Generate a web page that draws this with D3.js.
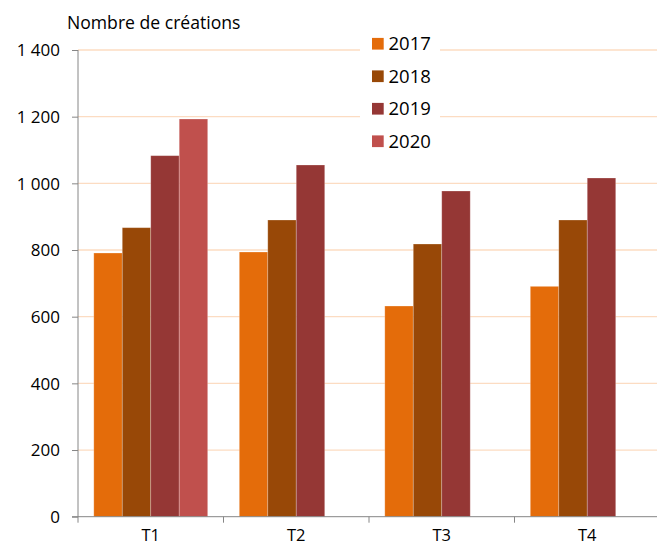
<!DOCTYPE html>
<html><head><meta charset="utf-8">
<script src="https://cdn.jsdelivr.net/npm/d3@7"></script>
<style>body{margin:0;background:#fff}svg{display:block}text{font-family:"Open Sans",sans-serif;fill:#000}</style>
</head><body><svg id="c" width="657" height="544"></svg>
<script>
const quarters = ["T1","T2","T3","T4"];
const years = ["2017","2018","2019","2020"];
const colors = ["#E46C0A","#984807","#953735","#C0504D"];
const v2017 = [791, 794, 632, 691];
const v2018 = [867, 890, 818, 890];
const v2019 = [1083, 1055, 977, 1016];
const v2020 = [1193, null, null, null];
const yTicks = [0,200,400,600,800,1000,1200,1400];
const yTickLabels = ["0","200","400","600","800","1 000","1 200","1 400"];
const yTitle = "Nombre de créations";

const series = [v2017, v2018, v2019, v2020];
const svg = d3.select("#c");
const L = 78, R = 660, T = 50, B = 516.7;
const x0 = d3.scaleBand().domain(quarters).range([L, R]).paddingInner(0);
const x1 = d3.scaleBand().domain(years).range([15.8, x0.bandwidth()-15.8]);
const y = d3.scaleLinear().domain([0,1400]).range([B, T]);

// gridlines
svg.append("g").selectAll("line").data(yTicks.filter(d=>d>0)).join("line")
  .attr("x1", L).attr("x2", 657).attr("y1", d=>y(d)).attr("y2", d=>y(d))
  .attr("stroke", "#FCDCC2").attr("stroke-width", 1.3);

// bars
const g = svg.append("g");
series.forEach((vals, si) => {
  g.selectAll(null).data(quarters.map((q,i)=>({q, v: vals[i]})).filter(d=>d.v!=null)).join("rect")
    .attr("x", d=>x0(d.q)+x1(years[si]))
    .attr("width", x1.bandwidth())
    .attr("y", d=>y(d.v))
    .attr("height", d=>B - y(d.v))
    .attr("fill", colors[si])
    .attr("stroke", "rgba(255,255,255,0.3)").attr("stroke-width", 0.8);
});

// y axis
const yAxis = d3.axisLeft(y).tickValues(yTicks).tickSize(6).tickFormat((d,i)=>yTickLabels[i]);
const ya = svg.append("g").attr("transform", `translate(${L},0)`).call(yAxis);
ya.select(".domain").remove();
ya.append("line").attr("x1",0).attr("x2",0).attr("y1",T).attr("y2",B+6).attr("stroke","#868686");
ya.selectAll(".tick line").attr("stroke","#868686");
ya.selectAll(".tick text").attr("x",-18).attr("font-size","17px").attr("font-family","Open Sans").attr("fill","#000").attr("dy","0.35em");

// x axis
svg.append("line").attr("x1",L-6).attr("x2",657).attr("y1",B).attr("y2",B).attr("stroke","#868686");
svg.append("g").selectAll("line").data(quarters.slice(1).concat(["end"])).join("line")
  .attr("x1", (d,i)=> i<3 ? x0(d) : R).attr("x2", (d,i)=> i<3 ? x0(d) : R)
  .attr("y1", B).attr("y2", B+6).attr("stroke","#868686");
svg.append("g").selectAll("text").data(quarters).join("text")
  .attr("x", d=>x0(d)+x0.bandwidth()/2).attr("y", 540.5)
  .attr("text-anchor","middle").attr("font-size","16.5px").text(d=>d);

// title
svg.append("text").attr("x",67).attr("y",28.5).attr("font-size","17.6px").text(yTitle);

// legend
const lg = svg.append("g");
lg.append("rect").attr("x",360).attr("y",26).attr("width",80).attr("height",130).attr("fill","#fff");
years.forEach((yr,i)=>{
  const cy = 43.7 + i*32.5;
  lg.append("rect").attr("x",372).attr("y",cy-5.8).attr("width",11.7).attr("height",11.7).attr("fill",colors[i]);
  lg.append("text").attr("x",388.5).attr("y",cy).attr("dy","0.36em").attr("font-size","18.5px").text(yr);
});
</script></body></html>
